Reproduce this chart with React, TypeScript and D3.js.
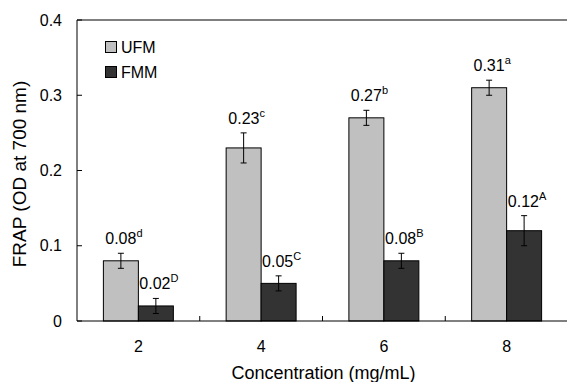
import React from "react";
import * as d3 from "d3";

const categories = ["2", "4", "6", "8"];
const seriesNames = ["UFM", "FMM"];
const ufmValues = [0.08, 0.23, 0.27, 0.31];
const fmmValues = [0.02, 0.05, 0.08, 0.12];
const ufmErrors = [0.01, 0.02, 0.01, 0.01];
const fmmErrors = [0.01, 0.01, 0.01, 0.02];
const ufmLetters = ["d", "c", "b", "a"];
const fmmLetters = ["D", "C", "B", "A"];
const yTicks = [0, 0.1, 0.2, 0.3, 0.4];
const colors = ["#c0c0c0", "#333333"];

const W = 567;
const H = 382;
const M = { left: 77, right: 568, top: 20, bottom: 321 };
const FONT = "'Liberation Sans', Arial, sans-serif";

export default function App() {
  const x = d3
    .scaleBand<string>()
    .domain(categories)
    .range([M.left, M.right])
    .paddingInner(0.43)
    .paddingOuter(0.215);
  const step = x.step();
  const x1 = d3.scaleBand<string>().domain(seriesNames).range([0, x.bandwidth()]);
  const y = d3.scaleLinear().domain([0, 0.4]).range([M.bottom, M.top]);

  const series = [
    { name: "UFM", values: ufmValues, errors: ufmErrors, letters: ufmLetters, color: colors[0] },
    { name: "FMM", values: fmmValues, errors: fmmErrors, letters: fmmLetters, color: colors[1] },
  ];

  const fmt = d3.format(".2f");
  const boundaries = categories.slice(1).map((c) => (x(c) as number) - (step - x.bandwidth()) / 2);

  return (
    <svg
      width={W}
      height={H}
      style={{ position: "absolute", left: 0, top: 0, display: "block", background: "#fff" }}
      fontFamily={FONT}
    >
      {/* bars */}
      {series.map((s) =>
        categories.map((c, i) => {
          const bx = (x(c) as number) + (x1(s.name) as number);
          const bw = x1.bandwidth();
          return (
            <rect
              key={s.name + c}
              x={bx}
              y={y(s.values[i])}
              width={bw}
              height={y(0) - y(s.values[i])}
              fill={s.color}
              stroke="#000"
              strokeWidth={1}
            />
          );
        })
      )}
      {/* error bars and labels */}
      {series.map((s) =>
        categories.map((c, i) => {
          const cx = (x(c) as number) + (x1(s.name) as number) + x1.bandwidth() / 2;
          const top = y(s.values[i] + s.errors[i]);
          const bot = y(s.values[i] - s.errors[i]);
          return (
            <g key={"e" + s.name + c}>
              <line x1={cx} x2={cx} y1={top} y2={bot} stroke="#000" strokeWidth={1} />
              <line x1={cx - 3} x2={cx + 3} y1={top} y2={top} stroke="#000" strokeWidth={1} />
              <line x1={cx - 3} x2={cx + 3} y1={bot} y2={bot} stroke="#000" strokeWidth={1} />
              <text x={cx + 3} y={top - 9} textAnchor="middle" fontSize={16} fill="#000">
                {fmt(s.values[i])}
                <tspan fontSize={11} dy={-7}>
                  {s.letters[i]}
                </tspan>
              </text>
            </g>
          );
        })
      )}
      {/* axes frame */}
      <line x1={M.left} x2={M.right} y1={M.top} y2={M.top} stroke="#000" strokeWidth={1} />
      <line x1={M.left} x2={M.left} y1={M.top} y2={M.bottom} stroke="#000" strokeWidth={1} />
      <line x1={M.left} x2={M.right} y1={M.bottom} y2={M.bottom} stroke="#000" strokeWidth={1} />
      {yTicks.map((t) => (
        <g key={"yt" + t}>
          <line x1={M.left} x2={M.left + 5} y1={y(t)} y2={y(t)} stroke="#000" strokeWidth={1} />
          <text x={62} y={y(t) + 5.5} textAnchor="end" fontSize={16} fill="#000">
            {t === 0 ? "0" : d3.format(".1f")(t)}
          </text>
        </g>
      ))}
      {boundaries.map((bx, i) => (
        <line key={"xt" + i} x1={bx} x2={bx} y1={M.bottom} y2={M.bottom - 5} stroke="#000" strokeWidth={1} />
      ))}
      {categories.map((c) => (
        <text
          key={"xl" + c}
          x={(x(c) as number) + x.bandwidth() / 2}
          y={351.5}
          textAnchor="middle"
          fontSize={16}
          fill="#000"
        >
          {c}
        </text>
      ))}
      <text x={(M.left + M.right) / 2 + 1} y={379} textAnchor="middle" fontSize={18} fill="#000">
        Concentration (mg/mL)
      </text>
      <text
        transform={`translate(26,${174}) rotate(-90)`}
        textAnchor="middle"
        fontSize={19}
        fill="#000"
      >
        FRAP (OD at 700 nm)
      </text>
      {/* legend */}
      {series.map((s, i) => (
        <g key={"lg" + s.name} transform={`translate(105.5,${41.5 + i * 25})`}>
          <rect x={0} y={0} width={11} height={11} fill={s.color} stroke="#000" strokeWidth={1} />
          <text x={15.5} y={11} fontSize={16} fill="#000">
            {s.name}
          </text>
        </g>
      ))}
    </svg>
  );
}
